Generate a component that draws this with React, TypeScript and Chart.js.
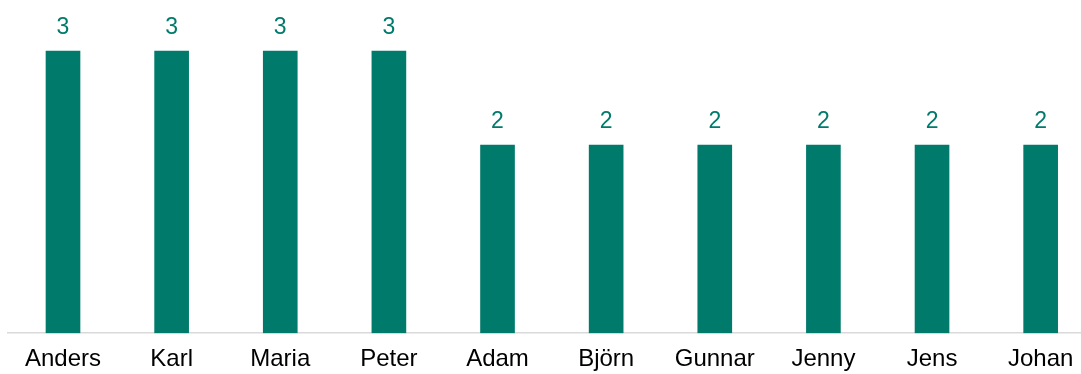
import React, { useEffect, useRef } from "react";
import { Chart, registerables } from "chart.js";

Chart.register(...registerables);

const categories = ["Anders", "Karl", "Maria", "Peter", "Adam", "Björn", "Gunnar", "Jenny", "Jens", "Johan"];
const values = [3, 3, 3, 3, 2, 2, 2, 2, 2, 2];

const BAR_COLOR = "#007B6B";
const FONT = "'Liberation Sans', Arial, sans-serif";

const dataLabelPlugin = {
  id: "dataLabels",
  afterDatasetsDraw(chart: any) {
    const ctx = chart.ctx;
    const meta = chart.getDatasetMeta(0);
    ctx.save();
    ctx.font = `23px ${FONT}`;
    ctx.fillStyle = BAR_COLOR;
    ctx.textAlign = "center";
    ctx.textBaseline = "alphabetic";
    meta.data.forEach((bar: any, i: number) => {
      ctx.fillText(String(values[i]), bar.x, bar.y - 17);
    });
    ctx.restore();
  },
};

export default function App() {
  const ref = useRef<HTMLCanvasElement | null>(null);
  useEffect(() => {
    if (!ref.current) return;
    const chart = new Chart(ref.current, {
      type: "bar",
      data: {
        datasets: [
          {
            data: values.map((v, i) => ({ x: i, y: v })),
            backgroundColor: BAR_COLOR,
            barThickness: 34,
          },
        ],
      },
      options: {
        animation: false,
        responsive: true,
        maintainAspectRatio: false,
        layout: { padding: { left: 8, right: 0, top: 0, bottom: 0 } },
        plugins: { legend: { display: false }, tooltip: { enabled: false } },
        scales: {
          x: {
            type: "linear",
            offset: false,
            min: -0.5063,
            max: 9.3713,
            afterBuildTicks: (axis: any) => {
              axis.ticks = categories.map((_, i) => ({ value: i }));
            },
            grid: { display: true, offset: false, color: "transparent", drawTicks: true, tickLength: 12, drawOnChartArea: false },
            border: { display: true, color: "#D9D9D9", width: 1.5 },
            ticks: {
              padding: 0,
              autoSkip: false,
              maxRotation: 0,
              color: "#000000",
              font: { family: FONT, size: 24 },
              callback: (v: any) => categories[Math.round(Number(v))] ?? "",
            },
          },
          y: {
            display: false,
            min: 0,
            max: 3.542,
          },
        },
      },
      plugins: [dataLabelPlugin],
    } as any);
    return () => chart.destroy();
  }, []);
  return (
    <div style={{ position: "fixed", left: 0, top: 0, width: 1081, height: 374 }}>
      <canvas ref={ref} />
    </div>
  );
}
